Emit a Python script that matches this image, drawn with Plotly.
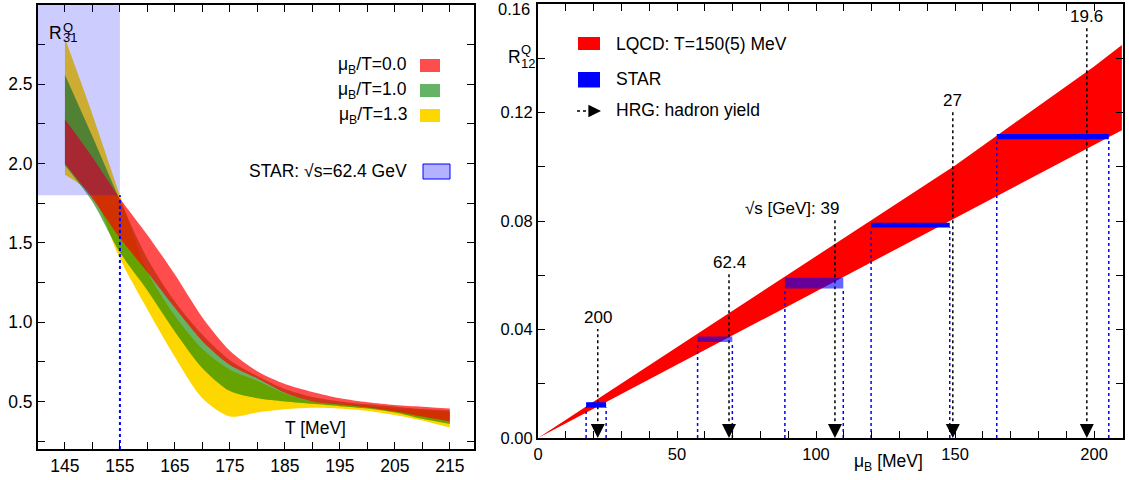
import plotly.graph_objects as go

# ---------------- data: left panel (R31^Q vs T) ----------------
T = [145, 150, 155, 160, 165, 170, 175, 180, 185, 190, 195, 200, 205, 210, 215]
red_hi = [2.28, 2.04, 1.78, 1.55, 1.30, 1.03, 0.82, 0.69, 0.61, 0.56, 0.52, 0.495, 0.478, 0.467, 0.455]
red_lo = [2.00, 1.78, 1.53, 1.315, 1.09, 0.88, 0.73, 0.645, 0.555, 0.50, 0.48, 0.462, 0.437, 0.405, 0.373]
green_hi = [2.56, 2.17, 1.77, 1.40, 1.13, 0.92, 0.76, 0.66, 0.578, 0.528, 0.50, 0.482, 0.467, 0.452, 0.443]
green_lo = [1.99, 1.76, 1.44, 1.20, 0.94, 0.71, 0.565, 0.52, 0.50, 0.485, 0.47, 0.455, 0.43, 0.39, 0.357]
yellow_hi = [2.79, 2.31, 1.80, 1.32, 1.04, 0.83, 0.70, 0.63, 0.55, 0.50, 0.485, 0.47, 0.455, 0.445, 0.435]
yellow_lo = [1.93, 1.80, 1.40, 1.08, 0.78, 0.52, 0.405, 0.43, 0.45, 0.46, 0.455, 0.44, 0.415, 0.38, 0.335]
band_labels = ["μ<sub>B</sub>/T=0.0", "μ<sub>B</sub>/T=1.0", "μ<sub>B</sub>/T=1.3"]
star_T = [140, 155]
star_R31 = [1.8, 3.0]

# ---------------- data: right panel (R12^Q vs muB) ----------------
mu = [0, 50, 100, 150, 200, 210]
lqcd_hi = [0, 0.0335, 0.0668, 0.1005, 0.1370, 0.1449]
lqcd_lo = [0, 0.0270, 0.0540, 0.0810, 0.1080, 0.1135]
star_labels = ["200", "62.4", "39", "27", "19.6"]
star_mu_lo = [17.3, 57.4, 88.8, 119.8, 165.0]
star_mu_hi = [24.5, 69.9, 109.8, 148.1, 205.3]
star_r12 = [0.0122, 0.0364, 0.0571, 0.0785, 0.1111]
star_half = [0.0010, 0.0010, 0.0020, 0.0009, 0.0010]
star_alpha = [1.0, 0.6, 0.6, 1.0, 1.0]
hrg_mu = [21.5, 68.7, 106.8, 149.2, 197.4]
hrg_top = [0.0402, 0.0605, 0.0804, 0.1202, 0.1511]

W, H = 1129, 480
FONT = "Liberation Sans, Arial, Helvetica, sans-serif"
RED = "rgba(255,0,0,0.7)"
GREEN = "rgba(0,128,0,0.6)"
YELLOW = "rgba(255,215,0,1)"


def px(x):
    return x / W


def py(y):
    return 1 - y / H


fig = go.Figure()

# bands (yellow, green, red): lower edge then upper edge filled to it
for lo, hi, col in [(yellow_lo, yellow_hi, YELLOW), (green_lo, green_hi, GREEN), (red_lo, red_hi, RED)]:
    fig.add_trace(go.Scatter(x=T, y=lo, mode="lines",
                             line=dict(width=0, shape="spline", smoothing=0.8),
                             hoverinfo="skip", showlegend=False, xaxis="x", yaxis="y"))
    fig.add_trace(go.Scatter(x=T, y=hi, mode="lines", fill="tonexty", fillcolor=col,
                             line=dict(width=0, shape="spline", smoothing=0.8),
                             hoverinfo="skip", showlegend=False, xaxis="x", yaxis="y"))

# blue dotted line at STAR T
fig.add_trace(go.Scatter(x=[star_T[1], star_T[1]], y=[0.2, star_R31[0]], mode="lines",
                         line=dict(color="blue", width=2, dash="dot"),
                         showlegend=False, hoverinfo="skip", xaxis="x", yaxis="y"))

# right panel LQCD band
fig.add_trace(go.Scatter(x=mu, y=lqcd_lo, mode="lines", line=dict(width=0),
                         hoverinfo="skip", showlegend=False, xaxis="x2", yaxis="y2"))
fig.add_trace(go.Scatter(x=mu, y=lqcd_hi, mode="lines", fill="tonexty",
                         fillcolor="rgb(255,0,0)", line=dict(width=0),
                         hoverinfo="skip", showlegend=False, xaxis="x2", yaxis="y2"))

shapes = []
annotations = []

# STAR boxes + blue dotted edges
for lo_m, hi_m, r, h, a in zip(star_mu_lo, star_mu_hi, star_r12, star_half, star_alpha):
    shapes.append(dict(type="rect", xref="x2", yref="y2", x0=lo_m, x1=hi_m, y0=r - h, y1=r + h,
                       fillcolor=f"rgba(0,0,255,{a})", line=dict(width=0), layer="above"))
    for xm in (lo_m, hi_m):
        fig.add_trace(go.Scatter(x=[xm, xm], y=[0, r - h], mode="lines",
                                 line=dict(color="blue", width=1.5, dash="dot"),
                                 showlegend=False, hoverinfo="skip", xaxis="x2", yaxis="y2"))

# HRG arrows
for m, top, lab in zip(hrg_mu, hrg_top, star_labels):
    fig.add_trace(go.Scatter(x=[m, m], y=[0.004, top], mode="lines",
                             line=dict(color="black", width=1.5, dash="dot"),
                             showlegend=False, hoverinfo="skip", xaxis="x2", yaxis="y2"))
    annotations.append(dict(x=m, y=0, xref="x2", yref="y2", ax=0, ay=-13, showarrow=True,
                            arrowhead=2, arrowsize=2.0, arrowwidth=1.4, arrowcolor="black",
                            standoff=0, text=""))
    if lab == "39":
        annotations.append(dict(x=m + 2.2, y=top, xref="x2", yref="y2", text="√s [GeV]: 39",
                                showarrow=False, xanchor="right", yanchor="bottom",
                                font=dict(size=17, color="black", family=FONT)))
    else:
        annotations.append(dict(x=m, y=top, xref="x2", yref="y2", text=lab,
                                showarrow=False, xanchor="center", yanchor="bottom",
                                font=dict(size=17, color="black", family=FONT)))

# STAR lavender region (left panel)
shapes.append(dict(type="rect", xref="x", yref="y", x0=star_T[0], x1=star_T[1],
                   y0=star_R31[0], y1=star_R31[1], fillcolor="rgba(0,0,255,0.2)",
                   line=dict(width=0), layer="above"))

# ----- left legend -----
leg_cols = [RED, GREEN, YELLOW]
leg_y = [65.5, 90.5, 115.5]
for lab, col, yy in zip(band_labels, leg_cols, leg_y):
    annotations.append(dict(x=px(409), y=py(yy), xref="paper", yref="paper", text=lab,
                            showarrow=False, xanchor="right", yanchor="middle",
                            font=dict(size=17.5, color="black", family=FONT)))
    shapes.append(dict(type="rect", xref="paper", yref="paper", x0=px(420), x1=px(440),
                       y0=py(yy + 6.5), y1=py(yy - 6.5), fillcolor=col, line=dict(width=0)))
annotations.append(dict(x=px(409), y=py(171), xref="paper", yref="paper",
                        text="STAR: √s=62.4 GeV", showarrow=False, xanchor="right",
                        yanchor="middle", font=dict(size=17.5, color="black", family=FONT)))
shapes.append(dict(type="rect", xref="paper", yref="paper", x0=px(423), x1=px(450),
                   y0=py(179), y1=py(164), fillcolor="rgba(0,0,255,0.3)",
                   line=dict(width=1, color="blue")))

# ----- right legend -----
shapes.append(dict(type="rect", xref="paper", yref="paper", x0=px(578), x1=px(600),
                   y0=py(50), y1=py(37), fillcolor="rgb(255,0,0)", line=dict(width=0)))
shapes.append(dict(type="rect", xref="paper", yref="paper", x0=px(578), x1=px(600),
                   y0=py(87.5), y1=py(72), fillcolor="rgb(0,0,255)", line=dict(width=0)))
shapes.append(dict(type="line", xref="paper", yref="paper", x0=px(577), x1=px(592),
                   y0=py(111), y1=py(111), line=dict(color="black", width=1.5, dash="dot")))
annotations.append(dict(x=px(601), y=py(111), xref="paper", yref="paper", ax=-11, ay=0,
                        showarrow=True, arrowhead=2, arrowsize=1.8, arrowwidth=1.4,
                        arrowcolor="black", standoff=0, text=""))
for txt, yy in [("LQCD: T=150(5) MeV", 44), ("STAR", 79), ("HRG: hadron yield", 110)]:
    annotations.append(dict(x=px(614), y=py(yy), xref="paper", yref="paper", text=txt,
                            showarrow=False, xanchor="left", yanchor="middle",
                            font=dict(size=17.5, color="black", family=FONT)))

# top tick label of right panel (kept inside the page)
annotations.append(dict(x=px(532), y=py(9), xref="paper", yref="paper", text="0.16",
                        showarrow=False, xanchor="right", yanchor="middle",
                        font=dict(size=16.5, color="black", family=FONT)))


# ----- axis titles -----
def rlabel(xr, yr, xs, ysup, ysub, sub):
    annotations.append(dict(x=px(xr), y=py(yr), xref="paper", yref="paper", text="R",
                            showarrow=False, xanchor="left", yanchor="middle",
                            font=dict(size=17.5, color="black", family=FONT)))
    annotations.append(dict(x=px(xs), y=py(ysup), xref="paper", yref="paper", text="Q",
                            showarrow=False, xanchor="left", yanchor="middle",
                            font=dict(size=13, color="black", family=FONT)))
    annotations.append(dict(x=px(xs), y=py(ysub), xref="paper", yref="paper", text=sub,
                            showarrow=False, xanchor="left", yanchor="middle",
                            font=dict(size=13, color="black", family=FONT)))


rlabel(47, 33, 61, 27, 38, "31")
rlabel(506, 57, 519, 50, 64, "12")
annotations.append(dict(x=px(315), y=py(428), xref="paper", yref="paper", text="T [MeV]",
                        showarrow=False, xanchor="center", yanchor="middle",
                        font=dict(size=17.5, color="black", family=FONT)))
annotations.append(dict(x=px(888), y=py(462), xref="paper", yref="paper",
                        text="μ<sub>B</sub> [MeV]", showarrow=False, xanchor="center",
                        yanchor="middle", font=dict(size=17.5, color="black", family=FONT)))

axis_common = dict(showgrid=False, zeroline=False, showline=True, linecolor="black",
                   linewidth=2, mirror="ticks", ticks="inside", ticklen=7, tickwidth=1.3,
                   tickcolor="black", automargin=False)

fig.update_layout(
    width=W, height=H, margin=dict(l=0, r=0, t=0, b=0, autoexpand=False),
    paper_bgcolor="white", plot_bgcolor="white", showlegend=False,
    font=dict(family=FONT, color="black"),
    xaxis=dict(domain=[px(38), px(474)], range=[140.1, 219.4],
               tickvals=[145, 155, 165, 175, 185, 195, 205, 215],
               minor=dict(dtick=5, tick0=0, ticks="inside", ticklen=7, tickcolor="black"),
               tickfont=dict(size=17.5), anchor="y", **axis_common),
    yaxis=dict(domain=[py(449), py(5)], range=[0.2, 3.0],
               tickvals=[0.5, 1.0, 1.5, 2.0, 2.5], ticktext=["0.5", "1.0", "1.5", "2.0", "2.5"],
               minor=dict(dtick=0.25, tick0=0, ticks="inside", ticklen=7, tickcolor="black"),
               tickfont=dict(size=17.5), anchor="x", **axis_common),
    xaxis2=dict(domain=[px(538), px(1122.7)], range=[0, 210.3],
                tickvals=[0, 50, 100, 150, 200],
                minor=dict(dtick=10, tick0=0, ticks="inside", ticklen=7, tickcolor="black"),
                tickfont=dict(size=16.5), anchor="y2", **axis_common),
    yaxis2=dict(domain=[py(438), py(4)], range=[0, 0.16],
                tickvals=[0, 0.04, 0.08, 0.12, 0.16],
                ticktext=["0.00", "0.04", "0.08", "0.12", ""],
                minor=dict(dtick=0.02, tick0=0, ticks="inside", ticklen=7, tickcolor="black"),
                tickfont=dict(size=16.5), anchor="x2", **axis_common),
    shapes=shapes, annotations=annotations,
)

fig.write_html("out.html", config={"displayModeBar": False},
               post_script="document.body.style.margin='0px';document.body.style.padding='0px';")
